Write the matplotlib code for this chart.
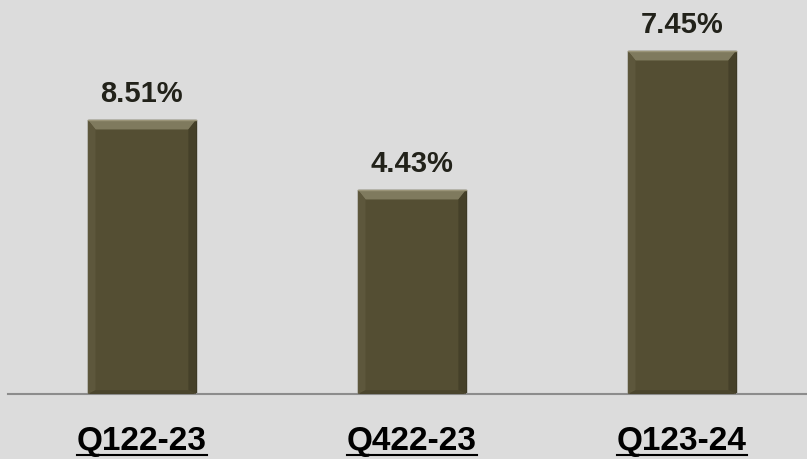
import matplotlib
matplotlib.use("Agg")
import matplotlib.pyplot as plt
from matplotlib.patches import Polygon
from matplotlib.lines import Line2D

plt.rcParams['font.family'] = ['Liberation Sans', 'DejaVu Sans']

# data
quarters = ['Q122-23', 'Q422-23', 'Q123-24']
value_labels = ['8.51%', '4.43%', '7.45%']
# bar heights as drawn in the source (not proportional to the labels)
bar_heights = [2.74, 2.04, 3.43]

bg = '#dcdcdc'
bar_color = '#544e33'
text_color = '#22221a'

fig = plt.figure(figsize=(8.07, 4.59), dpi=100, facecolor=bg)
# axes from the baseline (y=394px) to the top of the figure
ax = fig.add_axes([8 / 807, (459 - 394) / 459, 1 - 8 / 807, 394 / 459])
ax.set_facecolor(bg)

x = list(range(len(quarters)))
bars = ax.bar(x, bar_heights, width=0.4, color=bar_color,
              edgecolor='#3d3925', linewidth=1.0, zorder=2)
ax.set_xlim(-0.496, 2.463)
ax.set_ylim(0, 3.94)

# simple bevel look on every bar
for b in bars:
    x0, w, h = b.get_x(), b.get_width(), b.get_height()
    dx = w * 0.07
    dy = 3.94 * 0.024
    top = Polygon([(x0, h), (x0 + w, h), (x0 + w - dx, h - dy), (x0 + dx, h - dy)],
                  closed=True, facecolor='#7f7a5e', edgecolor='none', zorder=3)
    left = Polygon([(x0, h), (x0 + dx, h - dy), (x0 + dx, dy * 0.4), (x0, 0)],
                   closed=True, facecolor='#5d573c', edgecolor='none', zorder=3)
    right = Polygon([(x0 + w, h), (x0 + w - dx, h - dy), (x0 + w - dx, dy * 0.4), (x0 + w, 0)],
                    closed=True, facecolor='#454029', edgecolor='none', zorder=3)
    bottom = Polygon([(x0, 0), (x0 + w, 0), (x0 + w - dx, dy * 0.4), (x0 + dx, dy * 0.4)],
                     closed=True, facecolor='#4a452d', edgecolor='none', zorder=3)
    for p in (top, left, right, bottom):
        ax.add_patch(p)
    ax.plot([x0, x0 + w], [h, h], color='#9a9478', lw=1.0, zorder=4)

for b, lab in zip(bars, value_labels):
    ax.annotate(lab, (b.get_x() + b.get_width() / 2, b.get_height()),
                xytext=(0, 19), textcoords='offset points',
                ha='center', va='center', fontsize=21, fontweight='bold',
                color=text_color)

for side in ('top', 'right', 'left'):
    ax.spines[side].set_visible(False)
ax.spines['bottom'].set_color('#8c8c8c')
ax.spines['bottom'].set_linewidth(1.5)
ax.set_yticks([])
ax.set_xticks(x)
ax.set_xticklabels(quarters, fontsize=24, fontweight='bold', color='black')
ax.tick_params(axis='x', length=0, pad=23)

# underline the category labels
fig.canvas.draw()
renderer = fig.canvas.get_renderer()
for t in ax.get_xticklabels():
    bb = t.get_window_extent(renderer)
    y = bb.y0 + 2
    fig.add_artist(Line2D([bb.x0, bb.x1], [y, y], transform=None,
                          color='black', linewidth=1.5))

fig.savefig('out.png', dpi=100, facecolor=bg)
